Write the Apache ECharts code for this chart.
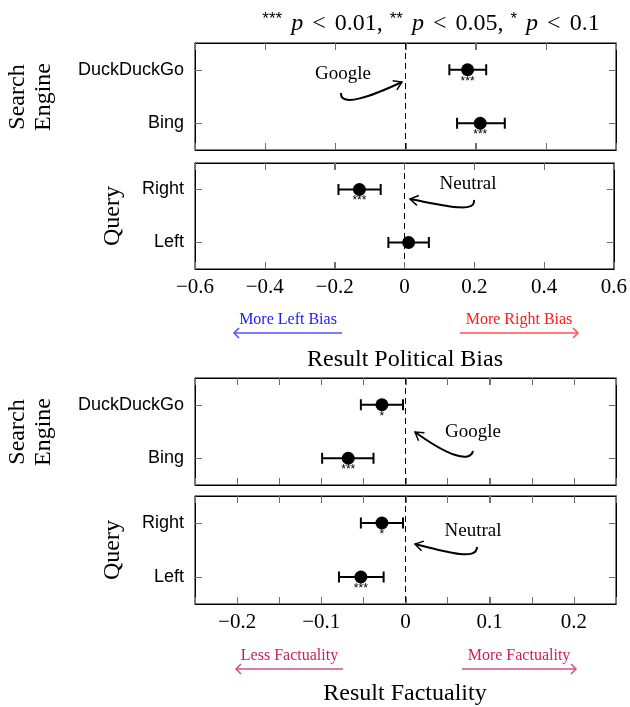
<!DOCTYPE html>
<html><head><meta charset="utf-8">
<script src="https://cdn.jsdelivr.net/npm/echarts@6/dist/echarts.min.js"></script>
<style>html,body{margin:0;padding:0;background:#fff}#c{width:630px;height:707px}</style>
</head><body><div id="c"></div>
<script>
const engineCats = ['DuckDuckGo', 'Bing'];
const queryCats = ['Right', 'Left'];
const biasTicks = [-0.6, -0.4, -0.2, 0, 0.2, 0.4, 0.6];
const factTicks = [-0.2, -0.1, 0, 0.1, 0.2];

const biasEngineMean = [0.177, 0.213];
const biasEngineLow = [0.125, 0.147];
const biasEngineHigh = [0.230, 0.283];
const biasEngineSig = ['***', '***'];

const biasQueryMean = [-0.129, 0.012];
const biasQueryLow = [-0.189, -0.046];
const biasQueryHigh = [-0.068, 0.070];
const biasQuerySig = ['***', ''];

const factEngineMean = [-0.028, -0.068];
const factEngineLow = [-0.053, -0.099];
const factEngineHigh = [-0.003, -0.038];
const factEngineSig = ['*', '***'];

const factQueryMean = [-0.028, -0.053];
const factQueryLow = [-0.053, -0.079];
const factQueryHigh = [-0.003, -0.026];
const factQuerySig = ['*', '***'];

const chart = echarts.init(document.getElementById('c'), null, {renderer: 'canvas'});

const grids = [
  {left: 195, right: 14, top: 43, height: 107},
  {left: 195, right: 14, top: 163, height: 106},
  {left: 195, right: 14, top: 378, height: 107},
  {left: 195, right: 14, top: 496, height: 108}
].map(g => Object.assign({show: true, borderColor: '#000', borderWidth: 1}, g));

const panels = [
  {cats: engineCats, mean: biasEngineMean, low: biasEngineLow, high: biasEngineHigh, sig: biasEngineSig, range: [-0.6, 0.6], step: 0.2, ticks: biasTicks, labels: false},
  {cats: queryCats, mean: biasQueryMean, low: biasQueryLow, high: biasQueryHigh, sig: biasQuerySig, range: [-0.6, 0.6], step: 0.2, ticks: biasTicks, labels: true},
  {cats: engineCats, mean: factEngineMean, low: factEngineLow, high: factEngineHigh, sig: factEngineSig, range: [-0.25, 0.25], step: 0.05, ticks: factTicks, labels: false},
  {cats: queryCats, mean: factQueryMean, low: factQueryLow, high: factQueryHigh, sig: factQuerySig, range: [-0.25, 0.25], step: 0.05, ticks: factTicks, labels: true}
];

const fmt = v => (Math.abs(v) < 1e-9 ? '0' : (v < 0 ? '\u2212' + String(+(-v).toFixed(2)) : String(+v.toFixed(2))));
const TL = 7;
const tickCol = '#6e6e6e';

const xAxes = [], yAxes = [], series = [];
panels.forEach((p, i) => {
  const isTick = v => p.ticks.some(t => Math.abs(t - v) < 1e-6);
  const xTick = {show: true, inside: true, length: TL, lineStyle: {color: tickCol, width: 1},
    interval: (idx, v) => isTick(+v)};
  // bottom axis: labels + inside ticks
  xAxes.push({
    type: 'value', gridIndex: i, min: p.range[0], max: p.range[1], interval: p.step, position: 'bottom',
    splitLine: {show: false}, axisLine: {show: true, onZero: false, lineStyle: {color: '#000'}}, axisTick: xTick,
    axisLabel: {show: p.labels, formatter: v => (isTick(v) ? fmt(v) : ''), showMinLabel: true, showMaxLabel: true,
      color: '#000', fontFamily: 'Liberation Serif', fontSize: 21, margin: 8}
  });
  // top mirror axis: inside ticks only
  xAxes.push({
    type: 'value', gridIndex: i, min: p.range[0], max: p.range[1], interval: p.step, position: 'top',
    splitLine: {show: false}, axisLine: {show: true, onZero: false, lineStyle: {color: '#000'}}, axisTick: xTick,
    axisLabel: {show: false}
  });
  const yTick = {show: true, inside: true, length: TL, alignWithLabel: true, lineStyle: {color: tickCol, width: 1}};
  yAxes.push({
    type: 'category', gridIndex: i, data: p.cats, inverse: true, position: 'left',
    axisLine: {show: true, onZero: false, lineStyle: {color: '#000'}}, splitLine: {show: false}, axisTick: yTick,
    axisLabel: {color: '#000', fontFamily: 'Liberation Sans', fontSize: 18, margin: 11}
  });
  yAxes.push({
    type: 'category', gridIndex: i, data: p.cats, inverse: true, position: 'right',
    axisLine: {show: true, onZero: false, lineStyle: {color: '#000'}}, splitLine: {show: false}, axisTick: yTick,
    axisLabel: {show: false}
  });

  const xi = i * 2, yi = i * 2;

  // explicit tick marks at top and bottom edges, positioned through the x scale
  const tickVals = p.ticks;
  series.push({
    type: 'custom', xAxisIndex: xi, yAxisIndex: yi, silent: true, z: 6, clip: false,
    data: p.cats.map((c, k) => [0, k]),
    encode: {x: 0, y: 1},
    renderItem: function (params, api) {
      if (params.dataIndex !== 0) return {type: 'group', children: []};
      const cs = params.coordSys;
      const k = api.value(1);
      const top = Math.round(cs.y), bot = Math.round(cs.y + cs.height);
      const children = [];
      tickVals.forEach(t => {
        const x = Math.round(api.coord([t, k])[0]) + 0.5;
        if (x > cs.x + 2 && x < cs.x + cs.width - 2) {
          children.push({type: 'rect', shape: {x: x - 0.5, y: top, width: 1, height: TL}, style: {fill: tickCol}});
          children.push({type: 'rect', shape: {x: x - 0.5, y: bot - TL, width: 1, height: TL}, style: {fill: tickCol}});
        }
      });
      return {type: 'group', children: children};
    }
  });

  series.push({
    type: 'custom', xAxisIndex: xi, yAxisIndex: yi, silent: true, z: 3,
    data: p.cats.map((c, k) => [p.low[k], k, p.high[k]]),
    encode: {x: [0, 2], y: 1},
    renderItem: function (params, api) {
      const lo = api.coord([api.value(0), api.value(1)]);
      const hi = api.coord([api.value(2), api.value(1)]);
      const h = 5.5;
      const st = {stroke: '#000', lineWidth: 2};
      return {type: 'group', children: [
        {type: 'line', shape: {x1: lo[0], y1: lo[1], x2: hi[0], y2: hi[1]}, style: st},
        {type: 'line', shape: {x1: lo[0], y1: lo[1] - h, x2: lo[0], y2: lo[1] + h}, style: st},
        {type: 'line', shape: {x1: hi[0], y1: hi[1] - h, x2: hi[0], y2: hi[1] + h}, style: st}
      ]};
    }
  });
  series.push({
    type: 'scatter', xAxisIndex: xi, yAxisIndex: yi, z: 4, silent: true,
    symbol: 'circle', symbolSize: 13, itemStyle: {color: '#000', opacity: 1},
    data: p.mean.map((m, k) => ({value: [m, k], label: {formatter: p.sig[k] || ''}})),
    label: {show: true, position: 'bottom', distance: -1, color: '#000', fontFamily: 'Liberation Sans', fontSize: 12},
    markLine: {
      silent: true, symbol: ['none', 'none'], label: {show: false},
      lineStyle: {color: '#000', type: [6, 4], width: 1},
      data: [{xAxis: 0}]
    }
  });
});

function annot(text, tx, ty, p0, p1, p2, p3) {
  const dx = p3[0] - p2[0], dy = p3[1] - p2[1];
  const L = Math.hypot(dx, dy), ux = dx / L, uy = dy / L;
  const a = 8, w = 5;
  const b1 = [p3[0] - ux * a - uy * w, p3[1] - uy * a + ux * w];
  const b2 = [p3[0] - ux * a + uy * w, p3[1] - uy * a - ux * w];
  return [
    {type: 'text', x: tx, y: ty, style: {text: text, fill: '#000', font: '19px "Liberation Serif"', align: 'center', verticalAlign: 'middle'}, z: 10},
    {type: 'bezierCurve', shape: {x1: p0[0], y1: p0[1], cpx1: p1[0], cpy1: p1[1], cpx2: p2[0], cpy2: p2[1], x2: p3[0], y2: p3[1]}, style: {stroke: '#000', lineWidth: 2, fill: null}, z: 10},
    {type: 'polyline', shape: {points: [b1, p3, b2]}, style: {stroke: '#000', lineWidth: 1.5, fill: null}, z: 10}
  ];
}

function dirArrow(text, color, lineColor, x1, x2, y, left) {
  const tip = left ? x1 : x2;
  const s = left ? 1 : -1;
  return [
    {type: 'text', x: (x1 + x2) / 2, y: y - 13, style: {text: text, fill: color, font: '16px "Liberation Serif"', align: 'center', verticalAlign: 'middle'}, z: 10},
    {type: 'line', shape: {x1: x1, y1: y, x2: x2, y2: y}, style: {stroke: lineColor, lineWidth: 1.5}, z: 10},
    {type: 'polyline', shape: {points: [[tip + s * 5, y - 5], [tip, y], [tip + s * 5, y + 5]]}, style: {stroke: lineColor, lineWidth: 1.5, fill: null}, z: 10}
  ];
}

function vlabel(lines, x, y) {
  return {type: 'text', x: x, y: y, rotation: Math.PI / 2,
    style: {text: lines, fill: '#000', font: '24px "Liberation Serif"', align: 'center', verticalAlign: 'middle', lineHeight: 26}, z: 10};
}

const graphics = [].concat(
  [{type: 'text', x: 431, y: 24, z: 10, style: {
    text: '{s|***}{p|p}{lt|<}{n|0.01,}{s2|**}{p|p}{lt|<}{n|0.05,}{s2|*}{p|p}{lt|<}{n|0.1}',
    align: 'center', verticalAlign: 'middle',
    rich: {
      s: {fontFamily: 'Liberation Sans', fontSize: 17, verticalAlign: 'top', lineHeight: 27, padding: [0, 9, 0, 0], fill: '#000'},
      s2: {fontFamily: 'Liberation Sans', fontSize: 17, verticalAlign: 'top', lineHeight: 27, padding: [0, 9, 0, 7], fill: '#000'},
      p: {fontFamily: 'Liberation Serif', fontStyle: 'italic', fontSize: 24, lineHeight: 27, fill: '#000'},
      lt: {fontFamily: 'Liberation Serif', fontSize: 24, lineHeight: 27, padding: [0, 9, 0, 9], fill: '#000'},
      n: {fontFamily: 'Liberation Serif', fontSize: 24, lineHeight: 27, fill: '#000'}
    }
  }}],
  annot('Google', 343, 74, [341, 93], [340, 108], [372, 96], [402, 82]),
  annot('Neutral', 468, 184, [474, 200], [476, 214], [442, 205], [410, 199]),
  annot('Google', 473, 432, [473, 451], [470, 463], [448, 456], [415, 432]),
  annot('Neutral', 473, 531, [477, 547], [477, 561], [446, 552], [415, 544]),
  dirArrow('More Left Bias', '#1a1aff', '#5050ff', 234, 342, 333, true),
  dirArrow('More Right Bias', '#ff1a1a', '#ff5050', 460, 578, 333, false),
  dirArrow('Less Factuality', '#c81e5e', '#d4507e', 236, 343, 669, true),
  dirArrow('More Factuality', '#c81e5e', '#d4507e', 462, 576, 669, false),
  [{type: 'text', x: 405, y: 360, z: 10, style: {text: 'Result Political Bias', fill: '#000', font: '24px "Liberation Serif"', align: 'center', verticalAlign: 'middle'}},
   {type: 'text', x: 405, y: 694, z: 10, style: {text: 'Result Factuality', fill: '#000', font: '24px "Liberation Serif"', align: 'center', verticalAlign: 'middle'}}],
  [vlabel('Search\nEngine', 31, 97), vlabel('Query', 113, 216), vlabel('Search\nEngine', 31, 432), vlabel('Query', 113, 550)]
);

chart.setOption({
  animation: false,
  backgroundColor: '#fff',
  grid: grids,
  xAxis: xAxes,
  yAxis: yAxes,
  series: series,
  graphic: graphics
});
</script></body></html>
